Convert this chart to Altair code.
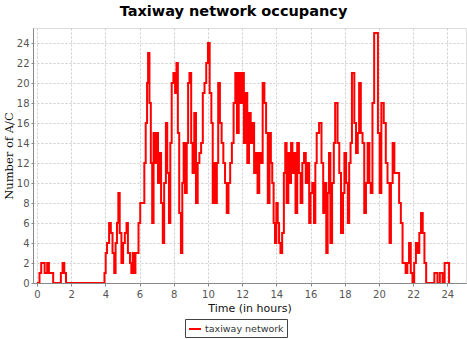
import altair as alt
import pandas as pd

times = [0.0, 0.15, 0.25, 0.45, 0.6, 0.7, 0.95, 1.4, 1.5, 1.6, 1.7, 3.95,
         4.02, 4.1, 4.22, 4.32, 4.42, 4.52, 4.6, 4.68, 4.76, 4.84, 4.94, 5.04,
         5.14, 5.24, 5.32, 5.44, 5.52, 5.6, 5.68, 5.76, 5.84, 5.94, 6.04, 6.2,
         6.28, 6.36, 6.44, 6.5, 6.58, 6.66, 6.74, 6.82, 6.92, 7.0, 7.08, 7.18,
         7.26, 7.36, 7.44, 7.54, 7.62, 7.72, 7.8, 7.88, 7.98, 8.08, 8.16, 8.24,
         8.32, 8.42, 8.5, 8.58, 8.66, 8.76, 8.84, 8.92, 9.02, 9.1, 9.2, 9.3,
         9.4, 9.5, 9.6, 9.7, 9.8, 9.9, 10.0, 10.1, 10.2, 10.28, 10.36, 10.44,
         10.52, 10.6, 10.7, 10.8, 10.9, 11.0, 11.1, 11.2, 11.3, 11.4, 11.5,
         11.6, 11.7, 11.8, 11.9, 12.0, 12.1, 12.2, 12.3, 12.4, 12.5, 12.6,
         12.7, 12.8, 12.9, 13.0, 13.1, 13.2, 13.3, 13.4, 13.5, 13.6, 13.68,
         13.76, 13.84, 13.92, 14.0, 14.08, 14.16, 14.24, 14.34, 14.44, 14.52,
         14.6, 14.7, 14.78, 14.86, 14.94, 15.04, 15.12, 15.22, 15.32, 15.42,
         15.52, 15.62, 15.72, 15.82, 15.92, 16.0, 16.1, 16.2, 16.28, 16.36,
         16.5, 16.64, 16.74, 16.84, 16.92, 17.0, 17.08, 17.16, 17.26, 17.36,
         17.44, 17.58, 17.68, 17.78, 17.9, 17.98, 18.08, 18.18, 18.26, 18.34,
         18.42, 18.56, 18.66, 18.76, 18.84, 18.94, 19.04, 19.14, 19.24, 19.34,
         19.44, 19.52, 19.62, 19.72, 19.94, 20.04, 20.14, 20.28, 20.4, 20.5,
         20.62, 20.7, 20.8, 20.9, 21.08, 21.18, 21.28, 21.38, 21.56, 21.66,
         21.76, 21.86, 21.96, 22.06, 22.16, 22.26, 22.36, 22.46, 22.56, 22.66,
         22.76, 23.24, 23.42, 23.56, 23.72, 23.84, 24.1]

counts = [0, 1, 2, 1, 2, 1, 0, 1, 2, 1, 0, 1,
          3, 4, 6, 5, 3, 1, 4, 6, 9, 5, 2, 4,
          5, 6, 3, 2, 1, 3, 1, 3, 3, 6, 8, 8,
          12, 16, 20, 23, 18, 12, 6, 15, 12, 15, 10, 13,
          8, 4, 10, 16, 11, 6, 14, 20, 21, 19, 22, 15,
          7, 3, 10, 14, 9, 14, 20, 21, 14, 11, 17, 8,
          12, 13, 14, 19, 20, 22, 24, 19, 16, 8, 12, 8,
          12, 20, 16, 14, 12, 10, 7, 10, 12, 14, 18,
          21, 15, 21, 18, 21, 14, 19, 12, 17, 14, 16,
          11, 13, 9, 13, 12, 20, 18, 15, 8, 15, 12,
          10, 6, 4, 8, 6, 4, 3, 5, 11, 14,
          8, 13, 10, 14, 11, 13, 7, 14, 11, 8,
          12, 13, 10, 12, 6, 9, 10, 6, 12, 15,
          16, 12, 7, 10, 3, 9, 13, 4, 10, 14,
          18, 14, 11, 5, 9, 13, 10, 6, 12, 14,
          21, 16, 13, 15, 20, 15, 14, 7, 10, 14,
          10, 9, 18, 25, 15, 9, 18, 16, 12, 10,
          4, 10, 14, 11, 11, 8, 6, 2, 1, 2,
          4, 1, 0, 2, 4, 3, 5, 7, 5, 2,
          0, 1, 0, 1, 0, 2, 0]

tick_values = list(range(0, 25, 2))
series_name = "taxiway network"

df = pd.DataFrame({"t": times, "n": counts, "s": [series_name] * len(times)})

chart = alt.Chart(df).mark_line(
    interpolate="step-after", strokeWidth=2, clip=True
).encode(
    x=alt.X("t:Q",
            scale=alt.Scale(domain=[-0.23, 25.09], nice=False, zero=False),
            axis=alt.Axis(values=tick_values, title="Time (in hours)",
                          format="d", labelFontSize=10, labelColor="#555555",
                          labelFont="DejaVu Sans", tickSize=3, tickColor="#888888",
                          labelPadding=3, titleFont="DejaVu Sans", titleFontSize=11,
                          titleFontWeight="normal", titleColor="#111111",
                          titlePadding=3, domainColor="#888888",
                          gridColor="#cccccc", gridDash=[2, 2])),
    y=alt.Y("n:Q",
            scale=alt.Scale(domain=[0, 25.5], nice=False),
            axis=alt.Axis(values=tick_values, title="Number of A/C",
                          format="d", labelFontSize=10, labelColor="#555555",
                          labelFont="DejaVu Sans", tickSize=2, tickColor="#888888",
                          labelPadding=2, titleFont="DejaVu Serif", titleFontSize=11.5,
                          titleFontWeight="normal", titleColor="#111111",
                          titlePadding=2, domainColor="#888888",
                          gridColor="#cccccc", gridDash=[2, 2])),
    color=alt.Color("s:N", scale=alt.Scale(range=["#ff0000"]),
                    legend=alt.Legend(title=None, orient="none", legendX=152,
                                      legendY=291, symbolType="stroke",
                                      symbolStrokeWidth=2, symbolSize=144,
                                      labelFontSize=9.5, labelFont="DejaVu Sans",
                                      labelColor="#333333", padding=3,
                                      labelOffset=3,
                                      strokeColor="#444444"))
).properties(
    width=433,
    height=255,
    title=alt.TitleParams("Taxiway network occupancy", fontSize=14.5,
                          font="DejaVu Sans", fontWeight="bold", anchor="middle",
                          dx=-16, offset=9, color="#000000"),
    padding={"left": 33, "top": 28, "right": 1, "bottom": 56},
    autosize=alt.AutoSizeParams(type="none")
).configure_view(
    stroke="#999999"
).configure(
    background="#ffffff"
)

chart.save("out.html", embed_options={"renderer": "svg", "actions": False})
